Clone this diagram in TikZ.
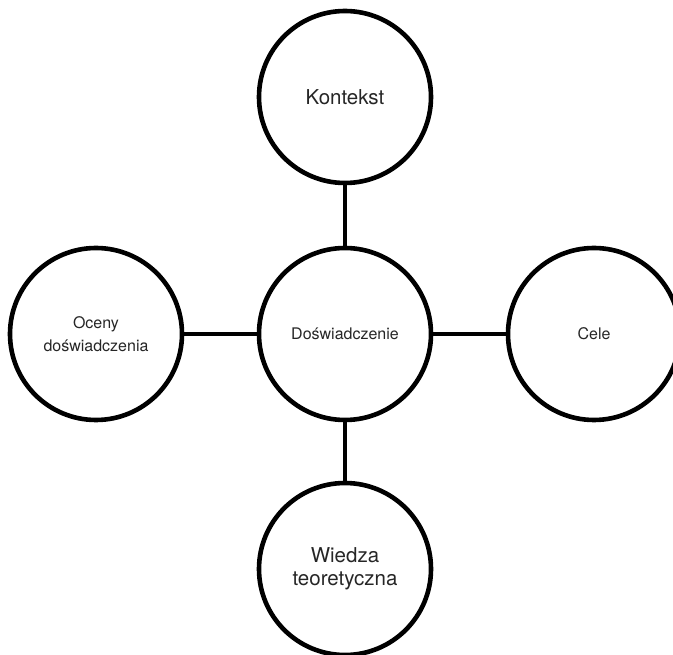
\documentclass[tikz,border=0pt]{standalone}
\usepackage{fontspec}
\setmainfont{TeX Gyre Heros}
\begin{document}
\begin{tikzpicture}[x=1pt,y=-1pt,
  bubble/.style={circle,draw=black,line width=4.6pt,minimum size=172pt,inner sep=0pt,
    align=center,text=black!85},
  small/.style={font=\fontsize{16}{23}\selectfont},
  large/.style={font=\fontsize{20.5}{22.5}\selectfont},
  link/.style={line width=4.6pt,draw=black}]
\useasboundingbox (0,0) rectangle (673,655);
\node[bubble,small] (exp) at (345,334) {Doświadczenie};
\node[bubble,large] (ctx) at (345,97) {Kontekst};
\node[bubble,small] (eval) at (96,334) {Oceny\\doświadczenia};
\node[bubble,small] (goals) at (594,334) {Cele};
\node[bubble,large] (theory) at (345,569) {Wiedza\\teoretyczna};
\draw[link] (exp) -- (ctx);
\draw[link] (exp) -- (eval);
\draw[link] (exp) -- (goals);
\draw[link] (exp) -- (theory);
\end{tikzpicture}
\end{document}
